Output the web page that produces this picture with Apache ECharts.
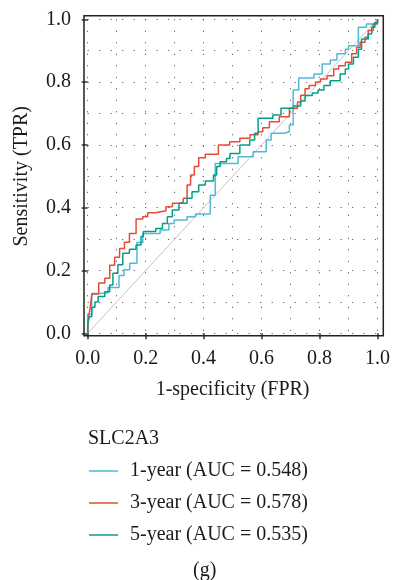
<!DOCTYPE html>
<html>
<head>
<meta charset="utf-8">
<script src="https://cdn.jsdelivr.net/npm/echarts@6/dist/echarts.min.js"></script>
<style>html,body{margin:0;padding:0;background:#fff}#c{width:393px;height:580px}</style>
</head>
<body>
<div id="c"></div>
<script>
// ---- data ----
var seriesNames = ['1-year (AUC = 0.548)', '3-year (AUC = 0.578)', '5-year (AUC = 0.535)'];
var seriesColors = ['#4DBBD5', '#E64B35', '#00A087'];
var legendTitle = 'SLC2A3';
var panelLabel = '(g)';

var fpr1 = [0,0,0.014,0.042,0.07,0.108,0.125,0.145,0.17,0.19,0.25,0.28,0.298,0.343,0.372,0.423,0.44,0.519,0.571,0.616,0.633,0.678,0.696,0.709,0.709,0.728,0.781,0.809,0.809,0.837,0.86,0.889,0.9,0.934,0.934,0.962,0.991,1];
var tpr1 = [0,0.061,0.127,0.129,0.146,0.184,0.202,0.223,0.289,0.318,0.329,0.35,0.361,0.371,0.38,0.44,0.541,0.562,0.578,0.616,0.637,0.642,0.663,0.669,0.775,0.813,0.826,0.831,0.858,0.87,0.89,0.905,0.916,0.916,0.975,0.985,0.99,1];

var fpr3 = [0,0.003,0.008,0.014,0.038,0.059,0.076,0.093,0.11,0.127,0.144,0.167,0.19,0.207,0.235,0.27,0.292,0.32,0.33,0.343,0.355,0.368,0.383,0.406,0.451,0.49,0.525,0.56,0.588,0.604,0.627,0.661,0.696,0.724,0.735,0.75,0.764,0.786,0.803,0.826,0.849,0.866,0.889,0.911,0.928,0.94,0.957,0.968,0.985,1];
var tpr3 = [0,0.053,0.077,0.125,0.16,0.175,0.217,0.242,0.27,0.29,0.318,0.364,0.371,0.384,0.39,0.403,0.414,0.419,0.43,0.472,0.504,0.531,0.559,0.57,0.6,0.61,0.621,0.632,0.642,0.655,0.674,0.69,0.717,0.737,0.758,0.779,0.789,0.8,0.81,0.82,0.842,0.852,0.863,0.89,0.911,0.927,0.943,0.964,0.985,1];

var fpr5 = [0,0,0.005,0.014,0.025,0.036,0.059,0.076,0.087,0.104,0.121,0.144,0.167,0.184,0.192,0.235,0.258,0.275,0.292,0.315,0.343,0.36,0.383,0.406,0.434,0.445,0.457,0.479,0.491,0.525,0.559,0.576,0.588,0.639,0.667,0.71,0.735,0.75,0.775,0.795,0.815,0.837,0.871,0.889,0.9,0.917,0.934,0.945,0.968,0.98,0.991,1];
var tpr5 = [0,0.026,0.053,0.083,0.1,0.117,0.132,0.154,0.191,0.218,0.255,0.268,0.281,0.308,0.324,0.334,0.35,0.371,0.393,0.414,0.43,0.451,0.472,0.485,0.504,0.531,0.546,0.557,0.573,0.6,0.616,0.637,0.685,0.695,0.717,0.724,0.74,0.757,0.765,0.775,0.789,0.804,0.826,0.842,0.858,0.879,0.905,0.937,0.953,0.975,0.99,1];

var refX = [0, 1];
var refY = [0, 1];

function pairs(xs, ys) { return xs.map(function (x, i) { return [x, ys[i]]; }); }

var FONT = 'Liberation Serif';
var TXT = '#1a1a1a';
var dotted = { color: '#444', width: 1, type: [1, 10.5] };

function rocSeries(i, xs, ys) {
  return {
    type: 'line', name: seriesNames[i], data: pairs(xs, ys), step: 'end', symbol: 'none',
    color: seriesColors[i], itemStyle: { color: seriesColors[i] },
    lineStyle: { color: seriesColors[i], width: 1.5 }, z: 2 + i
  };
}

var chart = echarts.init(document.getElementById('c'), null, { renderer: 'canvas' });
chart.setOption({
  animation: false,
  backgroundColor: '#fff',
  grid: { left: 87.7, right: 12, top: 19.3, bottom: 246.7, containLabel: false },
  xAxis: {
    type: 'value', min: 0, max: 1, interval: 0.2, offset: 2.4,
    axisLine: { show: false },
    axisTick: { show: true, length: 6, lineStyle: { color: '#333', width: 1.5 } },
    axisLabel: { margin: 13, fontFamily: FONT, fontSize: 20, color: TXT, formatter: function (v) { return v.toFixed(1); } },
    splitLine: { show: true, lineStyle: dotted },
    minorTick: { show: false, splitNumber: 2 },
    minorSplitLine: { show: true, lineStyle: dotted },
    name: '1-specificity (FPR)', nameLocation: 'middle', nameGap: 44,
    nameTextStyle: { fontFamily: FONT, fontSize: 20, color: TXT }
  },
  yAxis: {
    type: 'value', min: 0, max: 1, interval: 0.2, offset: 3.7,
    axisLine: { show: false },
    axisTick: { show: true, length: 6, lineStyle: { color: '#333', width: 1.5 } },
    axisLabel: { margin: 13, fontFamily: FONT, fontSize: 20, color: TXT, formatter: function (v) { return v.toFixed(1); } },
    splitLine: { show: true, lineStyle: dotted },
    minorTick: { show: false, splitNumber: 2 },
    minorSplitLine: { show: true, lineStyle: dotted },
    name: 'Sensitivity (TPR)', nameLocation: 'middle', nameGap: 52, nameRotate: 90,
    nameTextStyle: { fontFamily: FONT, fontSize: 20, color: TXT }
  },
  title: [
    { text: legendTitle, left: 83, top: 424, textStyle: { fontFamily: FONT, fontSize: 20, fontWeight: 'normal', color: TXT } },
    { text: panelLabel, left: 188, top: 556, textStyle: { fontFamily: FONT, fontSize: 20, fontWeight: 'normal', color: TXT } }
  ],
  legend: {
    data: seriesNames, orient: 'vertical', left: 84, top: 455,
    icon: 'rect', itemWidth: 29, itemHeight: 1.5, itemGap: 10,
    textStyle: { fontFamily: FONT, fontSize: 20, color: TXT, lineHeight: 22, padding: [0, 0, 0, 7] }
  },
  graphic: [
    { type: 'rect', shape: { x: 84, y: 15.7, width: 299.3, height: 320 }, style: { fill: 'none', stroke: '#222', lineWidth: 1.5 }, z: 100 }
  ],
  series: [
    { type: 'line', name: 'reference', data: pairs(refX, refY), symbol: 'none', silent: true, color: '#c4c4c4', lineStyle: { color: '#c4c4c4', width: 1 }, z: 1 },
    rocSeries(0, fpr1, tpr1),
    rocSeries(1, fpr3, tpr3),
    rocSeries(2, fpr5, tpr5)
  ]
});
</script>
</body>
</html>
